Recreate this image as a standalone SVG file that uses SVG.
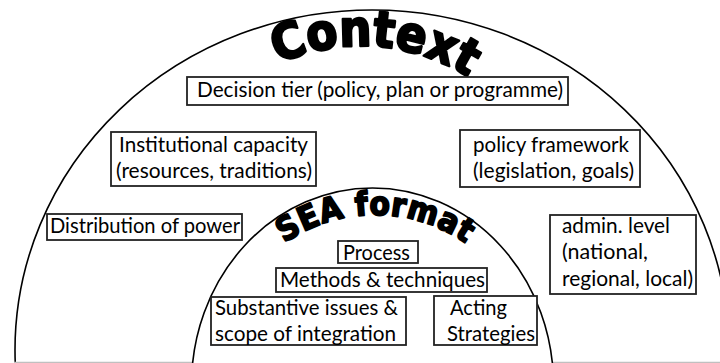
<svg xmlns="http://www.w3.org/2000/svg" width="720" height="363" viewBox="0 0 720 363">
<style>
.arc{fill:none;stroke:#000;stroke-width:1.6}
.base{stroke:#c0c0c0;stroke-width:1.2}
.box{fill:#fff;stroke:#222;stroke-width:1.8}
.t{font-family:Lato,Carlito,"Liberation Sans",sans-serif;font-size:21px;fill:#000}
.wa{font-family:"DejaVu Sans Condensed","DejaVu Sans",sans-serif;font-stretch:condensed;font-weight:bold;fill:#000;stroke:#000;stroke-linejoin:round}
</style>
<defs>
<path id="ctxPath" d="M 161 246 A 200 200 0 0 1 561 246"/>
<path id="seaPath" d="M 216 374 A 159 159 0 0 1 534 374"/>
</defs>
<rect x="0" y="0" width="720" height="363" fill="#fff"/>
<g id="context">
<ellipse class="arc" cx="372" cy="350" rx="357" ry="340"/>
<line class="base" x1="14" y1="362.4" x2="193" y2="362.4"/>
<line class="base" x1="553" y1="362.4" x2="720" y2="362.4"/>
<text class="wa" font-size="50" stroke-width="2.4" text-anchor="middle"><textPath href="#ctxPath" startOffset="328">Context</textPath></text>
</g>
<g id="sea-format">
<ellipse class="arc" cx="372.5" cy="385" rx="181" ry="197"/>
<text class="wa" font-size="33" stroke-width="1.8" letter-spacing="0.5" text-anchor="middle"><textPath href="#seaPath" startOffset="250">SEA format</textPath></text>
</g>
<g id="decision-tier">
<rect class="box" x="187" y="77" width="381" height="28"/>
<text class="t" x="197" y="97" textLength="366" lengthAdjust="spacingAndGlyphs">Decision tier (policy, plan or programme)</text>
</g>
<g id="institutional-capacity">
<rect class="box" x="111" y="132" width="205" height="54"/>
<text class="t" x="119" y="152" textLength="189" lengthAdjust="spacingAndGlyphs">Institutional capacity</text>
<text class="t" x="116" y="178" textLength="196" lengthAdjust="spacingAndGlyphs">(resources, traditions)</text>
</g>
<g id="policy-framework">
<rect class="box" x="460" y="130" width="180" height="57"/>
<text class="t" x="473" y="152" textLength="156" lengthAdjust="spacingAndGlyphs">policy framework</text>
<text class="t" x="473" y="178" textLength="161" lengthAdjust="spacingAndGlyphs">(legislation, goals)</text>
</g>
<g id="distribution-of-power">
<rect class="box" x="47" y="214" width="195" height="26"/>
<text class="t" x="50" y="233" textLength="190" lengthAdjust="spacingAndGlyphs">Distribution of power</text>
</g>
<g id="admin-level">
<rect class="box" x="550" y="215" width="146" height="79"/>
<text class="t" x="562" y="233" textLength="108" lengthAdjust="spacingAndGlyphs">admin. level</text>
<text class="t" x="562" y="259" textLength="86" lengthAdjust="spacingAndGlyphs">(national,</text>
<text class="t" x="562" y="286" textLength="131" lengthAdjust="spacingAndGlyphs">regional, local)</text>
</g>
<g id="process">
<rect class="box" x="338" y="241" width="80" height="22"/>
<text class="t" x="343" y="260" textLength="67" lengthAdjust="spacingAndGlyphs">Process</text>
</g>
<g id="methods-techniques">
<rect class="box" x="276" y="268" width="211" height="24"/>
<text class="t" x="280" y="287" textLength="205" lengthAdjust="spacingAndGlyphs">Methods &amp; techniques</text>
</g>
<g id="substantive-issues">
<rect class="box" x="211" y="297" width="195" height="48"/>
<text class="t" x="215" y="315" textLength="183" lengthAdjust="spacingAndGlyphs">Substantive issues &amp;</text>
<text class="t" x="215" y="341" textLength="181" lengthAdjust="spacingAndGlyphs">scope of integration</text>
</g>
<g id="acting-strategies">
<rect class="box" x="434" y="296" width="103" height="49"/>
<text class="t" x="450" y="315" textLength="57" lengthAdjust="spacingAndGlyphs">Acting</text>
<text class="t" x="447" y="341" textLength="88" lengthAdjust="spacingAndGlyphs">Strategies</text>
</g>
<g id="connectors"/>
</svg>
